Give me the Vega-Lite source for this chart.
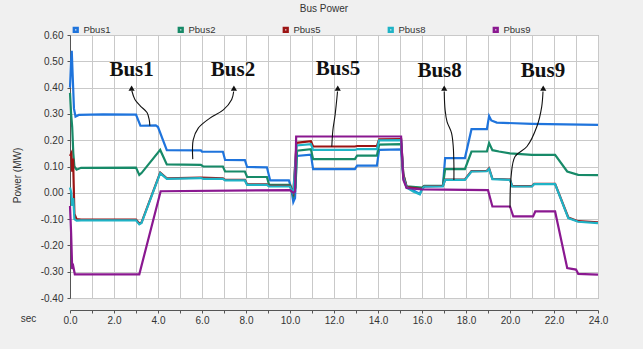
{
  "$schema": "https://vega.github.io/schema/vega-lite/v6.json",
  "width": 528,
  "height": 263,
  "autosize": {"type": "none"},
  "padding": {"left": 70, "top": 35, "right": 45, "bottom": 51},
  "background": "#f0f0f0",
  "title": {
    "text": "Bus Power",
    "font": "Liberation Sans",
    "fontSize": 10,
    "fontWeight": "normal",
    "color": "#333333",
    "anchor": "middle",
    "dx": -10,
    "dy": -10,
    "offset": 0
  },
  "config": {
    "font": "Liberation Sans",
    "view": {"fill": "white", "stroke": "#9a9a9a"},
    "axis": {
      "labelFont": "Liberation Sans",
      "labelFontSize": 10,
      "labelColor": "#333333",
      "domainColor": "#555555",
      "tickColor": "#555555",
      "tickSize": 3,
      "gridColor": "#c9c9c9",
      "gridOpacity": 1,
      "gridWidth": 1,
      "titleFont": "Liberation Sans",
      "titleFontSize": 10,
      "titleFontWeight": "normal",
      "titleColor": "#333333"
    },
    "legend": {
      "orient": "top",
      "direction": "horizontal",
      "title": null,
      "labelFont": "Liberation Sans",
      "labelFontSize": 9.5,
      "labelColor": "#333333",
      "symbolType": "square",
      "symbolSize": 14,
      "symbolStrokeWidth": 2.5,
      "labelOffset": 3,
      "columnPadding": 62,
      "padding": 1,
      "offset": -3
    }
  },
  "datasets": {
    "series": [
      {"s": "Pbus1", "t": 0, "v": 0.40}, {"s": "Pbus1", "t": 0.05, "v": 0.50}, {"s": "Pbus1", "t": 0.08, "v": 0.54},
      {"s": "Pbus1", "t": 0.12, "v": 0.45}, {"s": "Pbus1", "t": 0.18, "v": 0.32}, {"s": "Pbus1", "t": 0.25, "v": 0.29},
      {"s": "Pbus1", "t": 0.4, "v": 0.296}, {"s": "Pbus1", "t": 1.5, "v": 0.298}, {"s": "Pbus1", "t": 3.0, "v": 0.297},
      {"s": "Pbus1", "t": 3.2, "v": 0.255}, {"s": "Pbus1", "t": 3.9, "v": 0.256}, {"s": "Pbus1", "t": 4.0, "v": 0.25},
      {"s": "Pbus1", "t": 4.4, "v": 0.162}, {"s": "Pbus1", "t": 5.95, "v": 0.161}, {"s": "Pbus1", "t": 6.0, "v": 0.156},
      {"s": "Pbus1", "t": 6.95, "v": 0.156}, {"s": "Pbus1", "t": 7.05, "v": 0.125}, {"s": "Pbus1", "t": 7.95, "v": 0.124},
      {"s": "Pbus1", "t": 8.05, "v": 0.098}, {"s": "Pbus1", "t": 8.95, "v": 0.097}, {"s": "Pbus1", "t": 9.1, "v": 0.047},
      {"s": "Pbus1", "t": 9.95, "v": 0.047}, {"s": "Pbus1", "t": 10.05, "v": 0.02}, {"s": "Pbus1", "t": 10.15, "v": -0.035},
      {"s": "Pbus1", "t": 10.23, "v": -0.02}, {"s": "Pbus1", "t": 10.3, "v": 0.14}, {"s": "Pbus1", "t": 10.95, "v": 0.145},
      {"s": "Pbus1", "t": 11.05, "v": 0.09}, {"s": "Pbus1", "t": 12.95, "v": 0.09}, {"s": "Pbus1", "t": 13.05, "v": 0.103},
      {"s": "Pbus1", "t": 13.95, "v": 0.103}, {"s": "Pbus1", "t": 14.05, "v": 0.163}, {"s": "Pbus1", "t": 15.05, "v": 0.165},
      {"s": "Pbus1", "t": 15.15, "v": 0.06}, {"s": "Pbus1", "t": 15.3, "v": 0.02}, {"s": "Pbus1", "t": 15.6, "v": 0.01},
      {"s": "Pbus1", "t": 15.9, "v": -0.004}, {"s": "Pbus1", "t": 16.0, "v": 0.015}, {"s": "Pbus1", "t": 16.1, "v": 0.024},
      {"s": "Pbus1", "t": 16.95, "v": 0.025}, {"s": "Pbus1", "t": 17.05, "v": 0.132}, {"s": "Pbus1", "t": 17.95, "v": 0.132},
      {"s": "Pbus1", "t": 18.25, "v": 0.242}, {"s": "Pbus1", "t": 18.95, "v": 0.242}, {"s": "Pbus1", "t": 19.05, "v": 0.292},
      {"s": "Pbus1", "t": 19.15, "v": 0.275}, {"s": "Pbus1", "t": 19.4, "v": 0.267}, {"s": "Pbus1", "t": 21.0, "v": 0.262},
      {"s": "Pbus1", "t": 24.0, "v": 0.258},

      {"s": "Pbus2", "t": 0, "v": 0.38}, {"s": "Pbus2", "t": 0.05, "v": 0.30}, {"s": "Pbus2", "t": 0.1, "v": 0.25},
      {"s": "Pbus2", "t": 0.15, "v": 0.15}, {"s": "Pbus2", "t": 0.2, "v": 0.10}, {"s": "Pbus2", "t": 0.3, "v": 0.088},
      {"s": "Pbus2", "t": 0.5, "v": 0.095}, {"s": "Pbus2", "t": 3.0, "v": 0.096}, {"s": "Pbus2", "t": 3.15, "v": 0.068},
      {"s": "Pbus2", "t": 3.25, "v": 0.075}, {"s": "Pbus2", "t": 4.1, "v": 0.163}, {"s": "Pbus2", "t": 4.4, "v": 0.108},
      {"s": "Pbus2", "t": 5.95, "v": 0.106}, {"s": "Pbus2", "t": 6.05, "v": 0.1}, {"s": "Pbus2", "t": 6.95, "v": 0.1},
      {"s": "Pbus2", "t": 7.05, "v": 0.081}, {"s": "Pbus2", "t": 7.95, "v": 0.081}, {"s": "Pbus2", "t": 8.05, "v": 0.06},
      {"s": "Pbus2", "t": 8.95, "v": 0.06}, {"s": "Pbus2", "t": 9.05, "v": 0.03}, {"s": "Pbus2", "t": 10.0, "v": 0.03},
      {"s": "Pbus2", "t": 10.15, "v": -0.01}, {"s": "Pbus2", "t": 10.25, "v": 0.02}, {"s": "Pbus2", "t": 10.32, "v": 0.16},
      {"s": "Pbus2", "t": 10.95, "v": 0.166}, {"s": "Pbus2", "t": 11.05, "v": 0.128}, {"s": "Pbus2", "t": 12.95, "v": 0.128},
      {"s": "Pbus2", "t": 13.05, "v": 0.141}, {"s": "Pbus2", "t": 13.95, "v": 0.141}, {"s": "Pbus2", "t": 14.05, "v": 0.183},
      {"s": "Pbus2", "t": 15.05, "v": 0.185}, {"s": "Pbus2", "t": 15.15, "v": 0.07}, {"s": "Pbus2", "t": 15.3, "v": 0.025},
      {"s": "Pbus2", "t": 16.0, "v": 0.02}, {"s": "Pbus2", "t": 16.1, "v": 0.026}, {"s": "Pbus2", "t": 16.95, "v": 0.027},
      {"s": "Pbus2", "t": 17.05, "v": 0.09}, {"s": "Pbus2", "t": 17.95, "v": 0.09}, {"s": "Pbus2", "t": 18.25, "v": 0.157},
      {"s": "Pbus2", "t": 18.95, "v": 0.157}, {"s": "Pbus2", "t": 19.05, "v": 0.189}, {"s": "Pbus2", "t": 19.2, "v": 0.162},
      {"s": "Pbus2", "t": 19.5, "v": 0.157}, {"s": "Pbus2", "t": 20.0, "v": 0.15}, {"s": "Pbus2", "t": 21.0, "v": 0.144},
      {"s": "Pbus2", "t": 22.05, "v": 0.144}, {"s": "Pbus2", "t": 22.6, "v": 0.081}, {"s": "Pbus2", "t": 23.1, "v": 0.068},
      {"s": "Pbus2", "t": 24.0, "v": 0.067},

      {"s": "Pbus5", "t": 0, "v": 0.14}, {"s": "Pbus5", "t": 0.06, "v": 0.15}, {"s": "Pbus5", "t": 0.1, "v": 0.08},
      {"s": "Pbus5", "t": 0.14, "v": 0.13}, {"s": "Pbus5", "t": 0.2, "v": -0.08}, {"s": "Pbus5", "t": 0.3, "v": -0.10},
      {"s": "Pbus5", "t": 0.5, "v": -0.102}, {"s": "Pbus5", "t": 3.0, "v": -0.102}, {"s": "Pbus5", "t": 3.15, "v": -0.117},
      {"s": "Pbus5", "t": 3.25, "v": -0.113}, {"s": "Pbus5", "t": 4.1, "v": 0.077}, {"s": "Pbus5", "t": 4.4, "v": 0.055},
      {"s": "Pbus5", "t": 5.95, "v": 0.058}, {"s": "Pbus5", "t": 6.95, "v": 0.055}, {"s": "Pbus5", "t": 7.05, "v": 0.049},
      {"s": "Pbus5", "t": 7.95, "v": 0.049}, {"s": "Pbus5", "t": 8.05, "v": 0.032}, {"s": "Pbus5", "t": 8.95, "v": 0.032},
      {"s": "Pbus5", "t": 9.05, "v": 0.026}, {"s": "Pbus5", "t": 10.0, "v": 0.026}, {"s": "Pbus5", "t": 10.15, "v": 0.0},
      {"s": "Pbus5", "t": 10.3, "v": 0.19}, {"s": "Pbus5", "t": 10.95, "v": 0.196}, {"s": "Pbus5", "t": 11.05, "v": 0.176},
      {"s": "Pbus5", "t": 12.95, "v": 0.176}, {"s": "Pbus5", "t": 13.05, "v": 0.178}, {"s": "Pbus5", "t": 13.95, "v": 0.178},
      {"s": "Pbus5", "t": 14.05, "v": 0.203}, {"s": "Pbus5", "t": 15.05, "v": 0.204}, {"s": "Pbus5", "t": 15.15, "v": 0.07},
      {"s": "Pbus5", "t": 15.3, "v": 0.022}, {"s": "Pbus5", "t": 16.0, "v": 0.014}, {"s": "Pbus5", "t": 16.1, "v": 0.025},
      {"s": "Pbus5", "t": 16.95, "v": 0.026}, {"s": "Pbus5", "t": 17.05, "v": 0.0505}, {"s": "Pbus5", "t": 17.95, "v": 0.0505},
      {"s": "Pbus5", "t": 18.25, "v": 0.0825}, {"s": "Pbus5", "t": 18.95, "v": 0.0835}, {"s": "Pbus5", "t": 19.05, "v": 0.093},
      {"s": "Pbus5", "t": 19.2, "v": 0.0535}, {"s": "Pbus5", "t": 20.0, "v": 0.0505}, {"s": "Pbus5", "t": 20.1, "v": 0.0255},
      {"s": "Pbus5", "t": 21.0, "v": 0.0255}, {"s": "Pbus5", "t": 21.1, "v": 0.0345}, {"s": "Pbus5", "t": 22.05, "v": 0.0345},
      {"s": "Pbus5", "t": 22.65, "v": -0.094}, {"s": "Pbus5", "t": 23.1, "v": -0.108}, {"s": "Pbus5", "t": 24.0, "v": -0.112},

      {"s": "Pbus8", "t": 0, "v": 0.02}, {"s": "Pbus8", "t": 0.06, "v": 0.0}, {"s": "Pbus8", "t": 0.1, "v": -0.05},
      {"s": "Pbus8", "t": 0.15, "v": -0.02}, {"s": "Pbus8", "t": 0.2, "v": -0.10}, {"s": "Pbus8", "t": 0.3, "v": -0.106},
      {"s": "Pbus8", "t": 0.5, "v": -0.105}, {"s": "Pbus8", "t": 3.0, "v": -0.105}, {"s": "Pbus8", "t": 3.15, "v": -0.12},
      {"s": "Pbus8", "t": 3.25, "v": -0.115}, {"s": "Pbus8", "t": 4.1, "v": 0.075}, {"s": "Pbus8", "t": 4.4, "v": 0.053},
      {"s": "Pbus8", "t": 5.95, "v": 0.056}, {"s": "Pbus8", "t": 6.05, "v": 0.053}, {"s": "Pbus8", "t": 6.95, "v": 0.053},
      {"s": "Pbus8", "t": 7.05, "v": 0.047}, {"s": "Pbus8", "t": 7.95, "v": 0.047}, {"s": "Pbus8", "t": 8.05, "v": 0.03},
      {"s": "Pbus8", "t": 8.95, "v": 0.03}, {"s": "Pbus8", "t": 9.05, "v": 0.024}, {"s": "Pbus8", "t": 10.0, "v": 0.024},
      {"s": "Pbus8", "t": 10.15, "v": -0.005}, {"s": "Pbus8", "t": 10.3, "v": 0.18}, {"s": "Pbus8", "t": 10.95, "v": 0.185},
      {"s": "Pbus8", "t": 11.05, "v": 0.163}, {"s": "Pbus8", "t": 12.95, "v": 0.163}, {"s": "Pbus8", "t": 13.05, "v": 0.166},
      {"s": "Pbus8", "t": 13.95, "v": 0.166}, {"s": "Pbus8", "t": 14.05, "v": 0.199}, {"s": "Pbus8", "t": 15.05, "v": 0.2},
      {"s": "Pbus8", "t": 15.15, "v": 0.06}, {"s": "Pbus8", "t": 15.3, "v": 0.02}, {"s": "Pbus8", "t": 15.6, "v": 0.005},
      {"s": "Pbus8", "t": 15.9, "v": -0.006}, {"s": "Pbus8", "t": 16.0, "v": 0.012}, {"s": "Pbus8", "t": 16.1, "v": 0.024},
      {"s": "Pbus8", "t": 16.95, "v": 0.025}, {"s": "Pbus8", "t": 17.05, "v": 0.049}, {"s": "Pbus8", "t": 17.95, "v": 0.049},
      {"s": "Pbus8", "t": 18.25, "v": 0.081}, {"s": "Pbus8", "t": 18.95, "v": 0.082}, {"s": "Pbus8", "t": 19.05, "v": 0.091},
      {"s": "Pbus8", "t": 19.2, "v": 0.052}, {"s": "Pbus8", "t": 20.0, "v": 0.049}, {"s": "Pbus8", "t": 20.1, "v": 0.024},
      {"s": "Pbus8", "t": 21.0, "v": 0.024}, {"s": "Pbus8", "t": 21.1, "v": 0.033}, {"s": "Pbus8", "t": 22.05, "v": 0.033},
      {"s": "Pbus8", "t": 22.65, "v": -0.096}, {"s": "Pbus8", "t": 23.1, "v": -0.11}, {"s": "Pbus8", "t": 24.0, "v": -0.115},

      {"s": "Pbus9", "t": 0, "v": -0.05}, {"s": "Pbus9", "t": 0.05, "v": -0.15}, {"s": "Pbus9", "t": 0.1, "v": -0.29},
      {"s": "Pbus9", "t": 0.15, "v": -0.28}, {"s": "Pbus9", "t": 0.22, "v": -0.31}, {"s": "Pbus9", "t": 3.15, "v": -0.31},
      {"s": "Pbus9", "t": 4.12, "v": 0.006}, {"s": "Pbus9", "t": 10.0, "v": 0.01}, {"s": "Pbus9", "t": 10.15, "v": 0.0},
      {"s": "Pbus9", "t": 10.23, "v": 0.005}, {"s": "Pbus9", "t": 10.28, "v": 0.214}, {"s": "Pbus9", "t": 15.05, "v": 0.214},
      {"s": "Pbus9", "t": 15.15, "v": 0.05}, {"s": "Pbus9", "t": 15.3, "v": 0.018}, {"s": "Pbus9", "t": 16.0, "v": 0.013},
      {"s": "Pbus9", "t": 17.0, "v": 0.012}, {"s": "Pbus9", "t": 19.0, "v": 0.01}, {"s": "Pbus9", "t": 19.2, "v": -0.052},
      {"s": "Pbus9", "t": 20.0, "v": -0.052}, {"s": "Pbus9", "t": 20.15, "v": -0.09}, {"s": "Pbus9", "t": 21.05, "v": -0.09},
      {"s": "Pbus9", "t": 21.15, "v": -0.071}, {"s": "Pbus9", "t": 22.05, "v": -0.071}, {"s": "Pbus9", "t": 22.6, "v": -0.286},
      {"s": "Pbus9", "t": 23.0, "v": -0.292}, {"s": "Pbus9", "t": 23.1, "v": -0.308}, {"s": "Pbus9", "t": 24.0, "v": -0.311}
    ],
    "arrows": [
      {"id": "Bus1", "k": 0, "t": 2.81, "v": 0.388}, {"id": "Bus1", "k": 1, "t": 2.95, "v": 0.355},
      {"id": "Bus1", "k": 2, "t": 3.2, "v": 0.33}, {"id": "Bus1", "k": 3, "t": 3.5, "v": 0.305},
      {"id": "Bus1", "k": 4, "t": 3.6, "v": 0.278}, {"id": "Bus1", "k": 5, "t": 3.63, "v": 0.255},
      {"id": "Bus2", "k": 0, "t": 7.44, "v": 0.385}, {"id": "Bus2", "k": 1, "t": 7.35, "v": 0.355},
      {"id": "Bus2", "k": 2, "t": 6.97, "v": 0.315}, {"id": "Bus2", "k": 3, "t": 6.36, "v": 0.284},
      {"id": "Bus2", "k": 4, "t": 5.83, "v": 0.246}, {"id": "Bus2", "k": 5, "t": 5.6, "v": 0.201},
      {"id": "Bus2", "k": 6, "t": 5.58, "v": 0.128},
      {"id": "Bus5", "k": 0, "t": 12.16, "v": 0.385}, {"id": "Bus5", "k": 1, "t": 12.05, "v": 0.296},
      {"id": "Bus5", "k": 2, "t": 11.95, "v": 0.239}, {"id": "Bus5", "k": 3, "t": 11.9, "v": 0.175},
      {"id": "Bus8", "k": 0, "t": 17.01, "v": 0.385}, {"id": "Bus8", "k": 1, "t": 17.05, "v": 0.315},
      {"id": "Bus8", "k": 2, "t": 17.14, "v": 0.27}, {"id": "Bus8", "k": 3, "t": 17.34, "v": 0.228},
      {"id": "Bus8", "k": 4, "t": 17.42, "v": 0.176}, {"id": "Bus8", "k": 5, "t": 17.45, "v": 0.106},
      {"id": "Bus8", "k": 6, "t": 17.45, "v": 0.049},
      {"id": "Bus9", "k": 0, "t": 21.5, "v": 0.385}, {"id": "Bus9", "k": 1, "t": 21.44, "v": 0.327},
      {"id": "Bus9", "k": 2, "t": 21.23, "v": 0.254}, {"id": "Bus9", "k": 3, "t": 20.77, "v": 0.176},
      {"id": "Bus9", "k": 4, "t": 20.23, "v": 0.138}, {"id": "Bus9", "k": 5, "t": 20.05, "v": 0.062},
      {"id": "Bus9", "k": 6, "t": 20.0, "v": -0.057}
    ],
    "heads": [
      {"id": "Bus1", "t": 2.8, "v": 0.398},
      {"id": "Bus2", "t": 7.45, "v": 0.398},
      {"id": "Bus5", "t": 12.17, "v": 0.398},
      {"id": "Bus8", "t": 17.01, "v": 0.398},
      {"id": "Bus9", "t": 21.51, "v": 0.398}
    ],
    "labels": [
      {"name": "Bus1", "t": 2.8, "v": 0.467},
      {"name": "Bus2", "t": 7.41, "v": 0.467},
      {"name": "Bus5", "t": 12.18, "v": 0.472},
      {"name": "Bus8", "t": 16.8, "v": 0.465},
      {"name": "Bus9", "t": 21.5, "v": 0.465}
    ]
  },
  "encoding": {
    "x": {
      "field": "t",
      "type": "quantitative",
      "scale": {"domain": [0, 24], "nice": false, "zero": false},
      "axis": {
        "title": "sec",
        "titleX": -42,
        "titleY": 8,
        "titleAlign": "center",
        "titleBaseline": "middle",
        "offset": 12,
        "values": [0, 1, 2, 3, 4, 5, 6, 7, 8, 9, 10, 11, 12, 13, 14, 15, 16, 17, 18, 19, 20, 21, 22, 23, 24],
        "labelExpr": "datum.value % 2 == 0 ? format(datum.value, '.1f') : ''",
        "labelPadding": 2,
        "labelFlush": false,
        "grid": true
      }
    },
    "y": {
      "field": "v",
      "type": "quantitative",
      "scale": {"domain": [-0.4, 0.6], "nice": false, "zero": false},
      "axis": {
        "title": "Power (MW)",
        "titleX": -53,
        "titleY": 140,
        "titleAngle": -90,
        "titleAlign": "center",
        "titleBaseline": "middle",
        "values": [-0.4, -0.3, -0.2, -0.1, 0, 0.1, 0.2, 0.3, 0.4, 0.5, 0.6],
        "labelExpr": "replace(format(datum.value, '.2f'), '\u2212', '-')",
        "labelPadding": 4,
        "grid": true
      }
    }
  },
  "layer": [
    {
      "data": {"name": "series"},
      "mark": {"type": "line", "strokeWidth": 2.2, "interpolate": "linear"},
      "encoding": {
        "color": {
          "field": "s",
          "type": "nominal",
          "scale": {
            "domain": ["Pbus1", "Pbus2", "Pbus5", "Pbus8", "Pbus9"],
            "range": ["#1f74dc", "#178a68", "#9c1414", "#1fb3c6", "#8a1890"]
          }
        },
        "order": {"field": "t", "type": "quantitative"}
      }
    },
    {
      "data": {"name": "arrows"},
      "mark": {"type": "line", "color": "#111111", "strokeWidth": 1.1, "interpolate": "catmull-rom"},
      "encoding": {
        "detail": {"field": "id", "type": "nominal"},
        "order": {"field": "k", "type": "quantitative"}
      }
    },
    {
      "data": {"name": "heads"},
      "mark": {"type": "point", "shape": "triangle-up", "filled": true, "size": 38, "color": "#111111", "opacity": 1}
    },
    {
      "data": {"name": "labels"},
      "mark": {
        "type": "text",
        "font": "Liberation Serif",
        "fontWeight": "bold",
        "fontSize": 21,
        "color": "#111111",
        "align": "center",
        "baseline": "middle"
      },
      "encoding": {"text": {"field": "name", "type": "nominal"}}
    }
  ]
}
